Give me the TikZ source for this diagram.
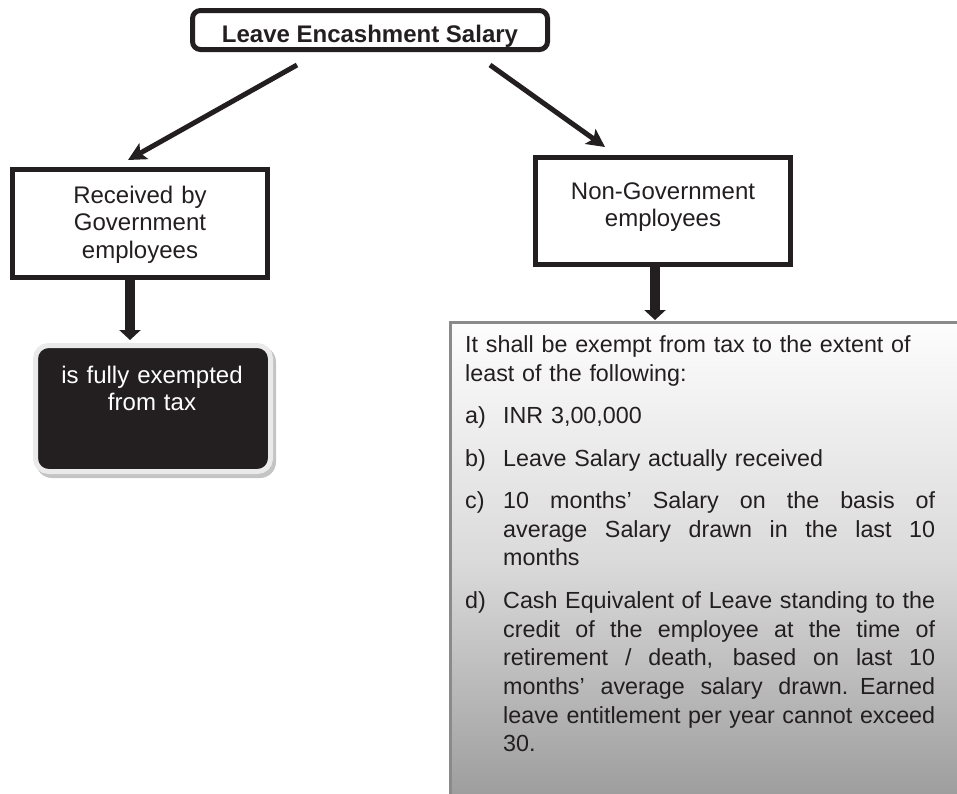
\documentclass[tikz,border=0pt]{standalone}
\usepackage{fontspec}
\setmainfont{Liberation Sans}
\usetikzlibrary{arrows.meta,calc}
\definecolor{txt}{HTML}{231F20}
\definecolor{darkfill}{HTML}{231F20}
\definecolor{ringc}{HTML}{EAEAEA}
\definecolor{shadowc}{HTML}{C4C4C4}
\definecolor{bordc}{HTML}{8A8A8A}
\definecolor{shT}{HTML}{FDFDFD}
\definecolor{shM}{HTML}{DADADA}
\definecolor{shB}{HTML}{9C9C9C}
\pgfdeclareverticalshading{bigshade}{100bp}{color(0bp)=(shB); color(25bp)=(shB); color(50bp)=(shM); color(75bp)=(shT); color(100bp)=(shT)}
\newcommand{\jline}[1]{\leavevmode\hbox to 432pt{\spaceskip=0.278em plus 20em minus 0.05em\relax #1}}
\newcommand{\lbl}[1]{\leavevmode\hbox to 38pt{#1\hfil}}
\begin{document}
\begin{tikzpicture}[x=1pt,y=-1pt,
  boxA/.style={draw=txt, line width=5pt, fill=white, inner sep=0pt},
  txtA/.style={text=txt, font=\fontsize{24}{27.5}\selectfont, align=center, inner sep=0pt},
  diag/.style={draw=txt, line width=5pt, -{Stealth[length=18pt,width=18pt,inset=4pt]}},
  vert/.style={draw=txt, line width=10pt, -{Triangle[length=10pt,width=21pt]}},
]
\useasboundingbox (0,0) rectangle (957,793);
\clip (0,0) rectangle (957,793);

% big right box (extends past the page)
\node[draw=bordc, line width=2.5pt, shade, shading=bigshade, anchor=north west,
      minimum width=515pt, minimum height=479pt, inner sep=0pt] (rules) at (449.25,321.25) {};

% title
\node[boxA, rounded corners=8pt, minimum width=355pt, minimum height=39pt,
      text height=24pt, text depth=0pt, text=txt,
      font=\bfseries\fontsize{24}{28}\selectfont] (title) at (370,30) {Leave Encashment Salary};

% government box
\node[boxA, minimum width=255pt, minimum height=108pt] (gov) at (140,223.5) {};
\node[txtA, text width=250pt, anchor=base] (govtxt) at (140,203) {Received by\\Government\\employees};

% non-government box
\node[boxA, minimum width=255pt, minimum height=107pt] (ngov) at (663,211) {};
\node[txtA, text width=250pt, anchor=base, font=\fontsize{24}{27}\selectfont] (ngovtxt) at (663,199.3) {Non-Government\\employees};

% dark result box
\fill[shadowc, rounded corners=16pt] (36,346) rectangle (276,478);
\node[fill=darkfill, draw=ringc, line width=5pt, rounded corners=13pt,
      minimum width=235pt, minimum height=126pt, inner sep=0pt] (exempt) at (153,408.5) {};
\node[txtA, text=white, text width=230pt, anchor=base, font=\fontsize{24}{27}\selectfont] (exempttxt) at (152,383) {is fully exempted\\from tax};

% rules text
\node[anchor=base west, text width=472pt, align=left, inner sep=0pt, text=txt,
      font=\fontsize{23.3}{28.7}\selectfont] (rulestxt) at (465,352.3) {%
It shall be exempt from tax to the extent of\\
least of the following:\\[13.8pt]
\lbl{a)}INR 3,00,000\\[13.8pt]
\lbl{b)}Leave Salary actually received\\[13.8pt]
\lbl{c)}\jline{10 months’ Salary on the basis of}\\
\lbl{}\jline{average Salary drawn in the last 10}\\
\lbl{}months\\[13.8pt]
\lbl{d)}\jline{Cash Equivalent of Leave standing to the}\\
\lbl{}\jline{credit of the employee at the time of}\\
\lbl{}\jline{retirement / death, based on last 10}\\
\lbl{}\jline{months’ average salary drawn. Earned}\\
\lbl{}\jline{leave entitlement per year cannot exceed}\\
\lbl{}30.};

% connectors
\coordinate (la) at (297,65);
\coordinate (lb) at (128,160);
\coordinate (ra) at (490,65);
\coordinate (rb) at (605,147);
\draw[diag] (la) -- (lb);
\draw[diag] (ra) -- (rb);
\coordinate (gtip) at (130,340);
\coordinate (ntip) at (655,320);
\draw[vert] (gov.south -| gtip) -- (gtip);
\draw[vert] (ngov.south -| ntip) -- (ntip);
\end{tikzpicture}
\end{document}
